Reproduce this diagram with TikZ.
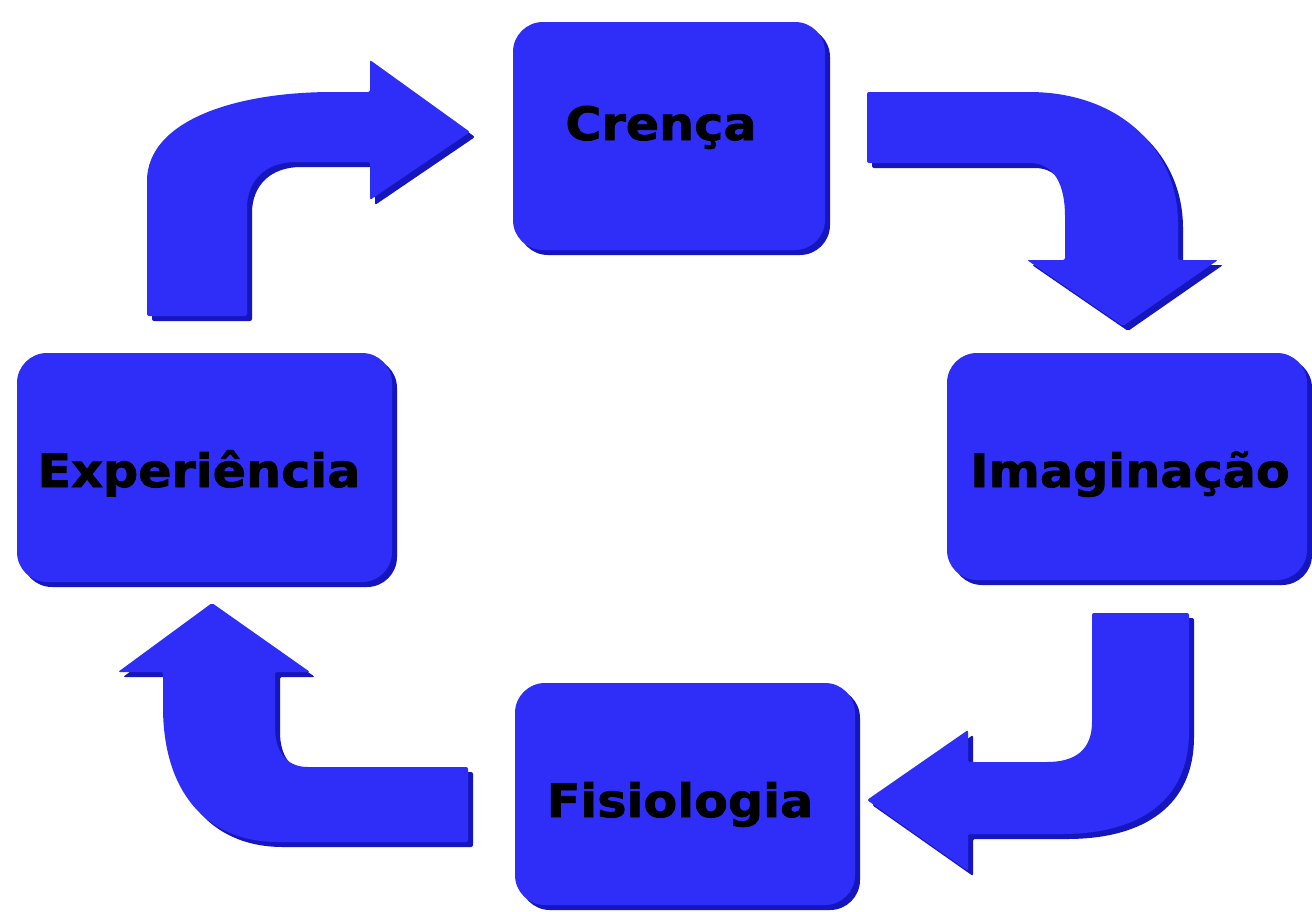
\documentclass[tikz,border=0pt]{standalone}
\usepackage{fontspec}
\newfontfamily\boxfont[FakeBold=1.6,FakeStretch=1.07]{DejaVu Sans Bold}
\usetikzlibrary{shadows}
\definecolor{bluemain}{RGB}{46,46,248}
\definecolor{blueshade}{RGB}{22,22,190}
\begin{document}
\begin{tikzpicture}[x=1pt,y=-1pt,
  box/.style={rounded corners=30pt, fill=bluemain, draw=none, inner sep=0pt,
    drop shadow={shadow xshift=5pt,shadow yshift=-5pt,fill=blueshade,opacity=1}},
  lbl/.style={anchor=base, text=black, inner sep=0pt, font=\boxfont\fontsize{46}{56}\selectfont},
  arrowbody/.style={fill=bluemain, rounded corners=2pt},
  arrowshade/.style={fill=blueshade, rounded corners=2pt, shift={(5,5)}}]
\useasboundingbox (0,0) rectangle (1312,911);
\fill[white] (0,0) rectangle (1312,911);

% boxes
\node[box, minimum width=312pt, minimum height=228pt] (crenca) at (669,136) {};
\node[box, minimum width=375pt, minimum height=229pt] (experiencia) at (204.5,467.5) {};
\node[box, minimum width=360pt, minimum height=227pt] (imaginacao) at (1127,466.5) {};
\node[box, minimum width=340pt, minimum height=222pt] (fisiologia) at (685,794) {};

% labels
\node[lbl] (tcrenca) at (661,140) {Crença};
\node[lbl] (texperiencia) at (199,487) {Experiência};
\node[lbl] (timaginacao) at (1130,487) {Imaginação};
\node[lbl] (tfisiologia) at (680,817) {Fisiologia};

% block arrows
\def\arrowTL{(147,316) -- (147,183) .. controls (147,122) and (232,92) .. (335,92) -- (370,92) -- (370,60) -- (470,132) -- (370,200) -- (370,162) -- (298,162) .. controls (266,162) and (247,180) .. (247,210) -- (247,316) -- cycle}
\def\arrowTR{(867,92) -- (1027,92) .. controls (1120,92) and (1178,150) .. (1178,225) -- (1178,260) -- (1218,260) -- (1123,326) -- (1027,260) -- (1065,260) -- (1065,218) .. controls (1065,186) and (1055,163) .. (1028,163) -- (867,163) -- cycle}
\def\arrowBR{(1092,613) -- (1189,613) -- (1189,730) .. controls (1189,800) and (1140,834) .. (1060,834) -- (968,834) -- (968,871) -- (867,800) -- (968,730) -- (968,762) -- (1045,762) .. controls (1075,762) and (1092,750) .. (1092,720) -- cycle}
\def\arrowBL{(468,767) -- (468,842) -- (280,842) .. controls (205,842) and (163,790) .. (163,705) -- (163,672) -- (118,672) -- (212,603) -- (310,672) -- (275,672) -- (275,725) .. controls (275,750) and (285,767) .. (310,767) -- cycle}

\fill[arrowshade] \arrowTL;
\fill[arrowbody] \arrowTL;
\fill[arrowshade] \arrowTR;
\fill[arrowbody] \arrowTR;
\fill[arrowshade] \arrowBR;
\fill[arrowbody] \arrowBR;
\fill[arrowshade] \arrowBL;
\fill[arrowbody] \arrowBL;
\end{tikzpicture}
\end{document}
